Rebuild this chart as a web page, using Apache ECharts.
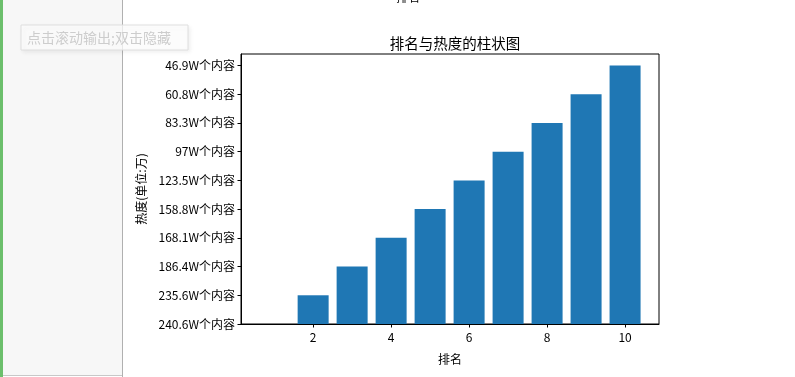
<!DOCTYPE html>
<html>
<head>
<meta charset="utf-8">
<script src="https://cdn.jsdelivr.net/npm/echarts@6/dist/echarts.min.js"></script>
<style>
  html, body { margin: 0; padding: 0; background: #fff; }
  #main { width: 795px; height: 377px; }
</style>
</head>
<body>
<div id="main"></div>
<script>
// 排名 1..10
var ranks = [1, 2, 3, 4, 5, 6, 7, 8, 9, 10];
// 热度标签（字符串，按类别顺序从下到上）
var heatLabels = ['240.6W个内容', '235.6W个内容', '186.4W个内容', '168.1W个内容', '158.8W个内容',
                  '123.5W个内容', '97W个内容', '83.3W个内容', '60.8W个内容', '46.9W个内容'];
// 每个排名对应的热度标签
var heatOfRank = ['240.6W个内容', '235.6W个内容', '186.4W个内容', '168.1W个内容', '158.8W个内容',
                  '123.5W个内容', '97W个内容', '83.3W个内容', '60.8W个内容', '46.9W个内容'];
var xTicks = [2, 4, 6, 8, 10];

var font = '"Noto Sans CJK SC", "DejaVu Sans", sans-serif';
var tickIdx = heatLabels.map(function (s, i) { return i; });

var myChart = echarts.init(document.getElementById('main'));
var option = {
  animation: false,
  title: {            // 标题
    text: '排名与热度的柱状图',
    left: 450,
    top: 31,
    textAlign: 'center',
    textStyle: { fontFamily: font, fontSize: 14.5, fontWeight: 'normal', color: '#000' }
  },
  grid: {             // 布局
    left: 241,
    right: 136,
    top: 54,
    bottom: 53,
    show: true,
    borderColor: '#000',
    borderWidth: 1,
    backgroundColor: '#fff'
  },
  xAxis: {
    type: 'value',
    min: 0.15,
    max: 10.87,
    name: '排名',
    nameLocation: 'middle',
    nameGap: 29,
    nameTextStyle: { fontFamily: font, fontSize: 12, color: '#000' },
    splitLine: { show: false },
    axisLine: { lineStyle: { color: '#000' } },
    axisTick: { length: 3.5, customValues: xTicks, lineStyle: { color: '#000' } },
    axisLabel: { customValues: xTicks, fontFamily: font, fontSize: 12, color: '#000', margin: 7 }
  },
  yAxis: {
    type: 'value',
    min: 0,
    max: 9.4,
    name: '热度(单位:万)',
    nameLocation: 'middle',
    nameGap: 88,
    nameTextStyle: { fontFamily: font, fontSize: 12, color: '#000' },
    splitLine: { show: false },
    axisLine: { lineStyle: { color: '#000' } },
    axisTick: { length: 3.5, customValues: tickIdx, lineStyle: { color: '#000' } },
    axisLabel: {
      customValues: tickIdx,
      fontFamily: font, fontSize: 12, color: '#000', margin: 6,
      formatter: function (v) { return heatLabels[Math.round(v)]; }
    }
  },
  series: [{
    type: 'bar',
    barWidth: 31,
    itemStyle: { color: '#1f77b4' },
    data: ranks.map(function (r, i) { return [r, heatLabels.indexOf(heatOfRank[i])]; })
  }],
  graphic: [
    { type: 'rect', shape: { x: 0, y: 0, width: 122, height: 376 }, style: { fill: '#f7f7f7' }, z: 100 },
    { type: 'rect', shape: { x: 0, y: 0, width: 3, height: 377 }, style: { fill: '#6cbf6c' }, z: 101 },
    { type: 'line', shape: { x1: 122.5, y1: 0, x2: 122.5, y2: 377 }, style: { stroke: '#b0b0b0', lineWidth: 1 }, z: 101 },
    { type: 'line', shape: { x1: 3, y1: 375.5, x2: 122, y2: 375.5 }, style: { stroke: '#c8c8c8', lineWidth: 1 }, z: 101 },
    { type: 'rect', shape: { x: 21, y: 25, width: 167, height: 25 },
      style: { fill: 'rgba(255,255,255,0.75)', stroke: '#dedede', lineWidth: 1,
               shadowBlur: 4, shadowColor: 'rgba(0,0,0,0.08)', shadowOffsetX: 2, shadowOffsetY: 2 }, z: 102 },
    { type: 'text', x: 27, y: 38,
      style: { text: '点击滚动输出;双击隐藏', fontFamily: font, fontSize: 14, fill: '#cdcdcd', verticalAlign: 'middle' }, z: 103 },
    { type: 'text', x: 408, y: -3,
      style: { text: '排名', fontFamily: font, fontSize: 12, fill: '#000', align: 'center', verticalAlign: 'middle' }, z: 103 }
  ]
};
myChart.setOption(option);
</script>
</body>
</html>
